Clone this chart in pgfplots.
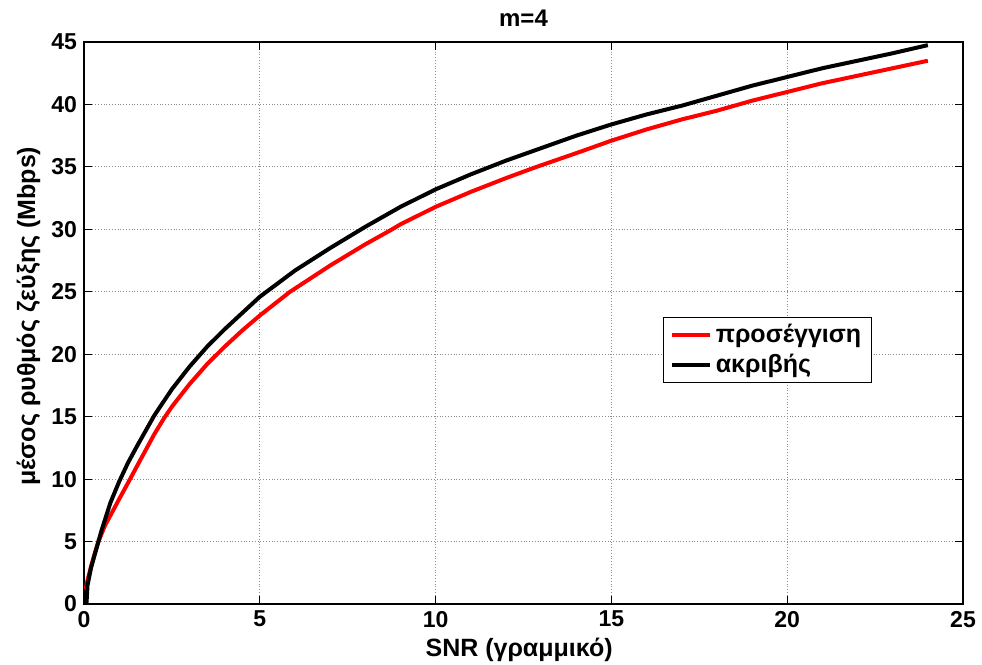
\documentclass[border=0pt]{standalone}
\usepackage{pgfplots}
\pgfplotsset{compat=1.18}
\usepackage{fontspec}
\setmainfont{Liberation Sans}
\usetikzlibrary{calc}
\begin{document}
\begin{tikzpicture}
\begin{axis}[
 scale only axis, width=439.5pt, height=281pt,
 xmin=0, xmax=25, ymin=0, ymax=45,
 xtick={0,5,...,25}, ytick={0,5,...,45},
 grid=major,
 major grid style={densely dotted, gray!90, line width=0.5pt},
 tick align=inside, tick pos=both, major tick length=4pt,
 axis line style={line width=0.8pt},
 every tick/.style={black, line width=0.5pt},
 ticklabel style={font=\fontsize{11.5}{13}\selectfont\bfseries},
 /pgf/number format/assume math mode=true,
 title={m=4},
 title style={at={(axis description cs:0.5,1.0427)}, anchor=center, yshift=-6pt, font=\fontsize{12}{14}\selectfont\bfseries},
 xlabel={SNR (γραμμικό)},
 xlabel style={at={(axis description cs:0.495,-0.0819)}, anchor=center, font=\fontsize{12.5}{14}\selectfont\bfseries},
 ylabel={μέσος ρυθμός ζεύξης (Mbps)},
 ylabel style={at={(axis description cs:-0.063,0.512)}, anchor=center, font=\fontsize{12.5}{14}\selectfont\bfseries},
 legend style={at={(rel axis cs:0.659,0.511)}, anchor=north west, draw=black, line width=0.6pt,
   font=\fontsize{12.5}{14}\selectfont\bfseries, inner xsep=3pt, inner ysep=1.5pt, row sep=0pt},
 legend cell align=left,
 legend image code/.code={\draw[#1, line width=2pt] (0pt,0pt) -- (19pt,0pt);},
]
\addplot[red, line width=2pt] coordinates {
(0.05,1.2) (0.1,1.9) (0.2,3.0) (0.3,4.0) (0.41,5.0) (0.6,6.3) (0.83,7.5) (1.0,8.4)
(1.31,10.0) (1.5,11.0) (2.0,13.6) (2.26,14.8) (2.5,15.8) (3.0,17.6) (3.5,19.2) (4,20.6)
(4.5,21.9) (5,23.1) (5.86,25.0) (7,27.1) (8,28.8) (8.7,29.9) (9,30.4) (10,31.8)
(11,33.0) (12,34.1) (12.87,35.0) (14,36.1) (15,37.1) (16,38.0) (17,38.8) (18,39.5)
(19,40.3) (20,41.0) (21,41.7) (22,42.3) (23,42.9) (24,43.5)
};
\addlegendentry{προσέγγιση}
\addplot[black, line width=2pt] coordinates {
(0.07,0) (0.1,1.5) (0.2,2.9) (0.3,3.9) (0.5,5.9) (0.75,8.1) (1.0,9.8) (1.25,11.3)
(1.5,12.6) (2.0,15.1) (2.5,17.2) (3,19.0) (3.5,20.6) (4,22.0) (4.5,23.3) (5,24.6)
(6,26.7) (7,28.5) (8,30.2) (9,31.8) (10,33.2) (11,34.4) (12,35.5) (13,36.5)
(14,37.5) (15,38.4) (16,39.2) (17,39.9) (18,40.7) (19,41.5) (20,42.2) (21,42.9)
(22,43.5) (23,44.1) (24,44.75)
};
\addlegendentry{ακριβής}
\end{axis}
\pgfresetboundingbox
\path[use as bounding box] ($(current axis.south west)+(-42pt,-30pt)$) rectangle ($(current axis.north east)+(9.5pt,21pt)$);
\end{tikzpicture}
\end{document}
